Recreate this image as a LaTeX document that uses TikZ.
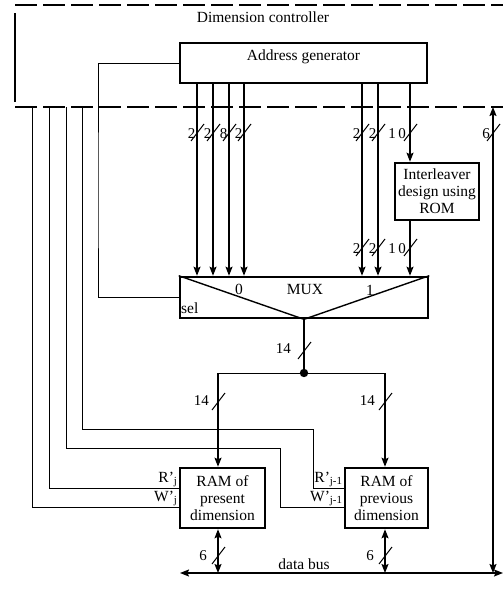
\documentclass[tikz,border=0pt]{standalone}
\usepackage{fontspec}
\setmainfont{Liberation Serif}
\usetikzlibrary{arrows.meta,calc}
\tikzset{
  thinln/.style={line width=0.9pt},
  busln/.style={line width=1.3pt},
  boxed/.style={draw,line width=2.6pt,inner sep=0pt,align=center,font=\fontsize{15.5}{17}\selectfont},
  arr/.style={-{Stealth[length=9pt,width=7pt,inset=1.5pt]}},
  arrb/.style={{Stealth[length=9pt,width=7pt,inset=1.5pt]}-{Stealth[length=9pt,width=7pt,inset=1.5pt]}},
  lbl/.style={font=\fontsize{15.5}{17}\selectfont,inner sep=1pt},
  num/.style={font=\fontsize{15}{15}\selectfont,inner sep=0pt},
  dashedge/.style={line width=2.6pt,dash pattern=on 22pt off 6pt},
  pics/sl/.style={code={\draw[line width=1pt] (-6,8) -- (7,-9);}}
}
\begin{document}
\begin{tikzpicture}[x=1pt,y=-1pt]
\useasboundingbox (0,0) rectangle (503,589);

% dimension controller (dashed)
\coordinate (dtl) at (15,5);
\coordinate (dtr) at (503,5);
\coordinate (dbl) at (15,107);
\coordinate (dbr) at (503,107);
\draw[dashedge] (dtl) -- (dtr);
\draw[line width=2.6pt] ($(dtl)+(0,8)$) -- ($(dbl)+(0,-5)$);
\draw[dashedge] (dbl) -- (dbr);
\node[lbl] (dctext) at (263,17) {Dimension controller};

% boxes
\node[boxed,minimum width=247pt,minimum height=40pt] (ag) at (303.5,63) {};
\node[lbl] (agtext) at (303.5,57) {Address generator};
\node[boxed,minimum width=248pt,minimum height=41pt] (mux) at (304,297.5) {};
\node[boxed,minimum width=84pt,minimum height=57pt] (rom) at (437,191.5) {Interleaver\\design using\\ROM};
\node[boxed,minimum width=85pt,minimum height=60pt] (ram1) at (222.5,498) {RAM of\\present\\dimension};
\node[boxed,minimum width=83pt,minimum height=60pt] (ram2) at (386.5,498) {RAM of\\previous\\dimension};

% mux interior
\draw[line width=1.4pt] (mux.north west) -- (mux.south) -- (mux.north east);
\node[lbl] (m0) at (239,289) {0};
\node[lbl] (mm) at (305,289) {MUX};
\node[lbl] (m1) at (370,290) {1};
\node[lbl,anchor=west] (msel) at (180,308) {sel};

% column x positions
\coordinate (a1) at (197,0);
\coordinate (a2) at (213,0);
\coordinate (a3) at (229,0);
\coordinate (a4) at (244,0);
\coordinate (a5) at (362,0);
\coordinate (a6) at (378,0);
\coordinate (a7) at (410,0);
\coordinate (r1x) at (218,0);
\coordinate (r2x) at (385,0);
\coordinate (rx) at (493,0);

% address lines to mux
\foreach \c in {a1,a2,a3,a4,a5,a6}{
  \draw[busln,arr] (ag.south -| \c) -- (mux.north -| \c);
}
\draw[busln,arr] (ag.south -| a7) -- (rom.north -| a7);
\draw[busln,arr] (rom.south -| a7) -- (mux.north -| a7);

% bus width marks (upper)
\foreach \xx/\t in {197/2,213/2,229/8,244/2,362/2,378/2}{
  \pic at (\xx,133) {sl};
  \node[num,anchor=east] at (\xx-1.5,134) {\t};
}
\pic at (410,133) {sl};
\node[num,anchor=east] at (406,134) {1\,0};
\pic at (493,133) {sl};
\node[num,anchor=east] at (490,134) {6};
% bus width marks (lower)
\foreach \xx/\t in {362/2,378/2}{
  \pic at (\xx,248) {sl};
  \node[num,anchor=east] at (\xx-1.5,249) {\t};
}
\pic at (410,248) {sl};
\node[num,anchor=east] at (406,249) {1\,0};

% sel line
\coordinate (selc) at (98,200);
\draw[thinln] (ag.west) -| (selc) |- (mux.west);

% mux output and split
\coordinate (jn) at (304,373);
\draw[busln] (mux.south) -- (jn);
\fill (jn) circle (4.2);
\draw[thinln] (jn) -- (jn -| r1x);
\draw[thinln] (jn) -- (jn -| r2x);
\draw[busln,arr] (jn -| r1x) -- (ram1.north -| r1x);
\draw[busln,arr] (jn -| r2x) -- (ram2.north -| r2x);
\pic at (304,351) {sl};
\node[num,anchor=east] at (291,349) {14};
\pic at (218,402) {sl};
\node[num,anchor=east] at (209,401) {14};
\pic at (385,402) {sl};
\node[num,anchor=east] at (375,401) {14};

% control lines
\coordinate (l1) at (32,107);
\coordinate (l2) at (49,107);
\coordinate (l3) at (66,107);
\coordinate (l4) at (82,107);
\coordinate (t3) at (280,448);
\coordinate (t4) at (313,429);
\coordinate (rj) at (0,488);
\coordinate (wj) at (0,507);
\draw[thinln] (l1) |- (ram1.west |- wj);
\draw[thinln] (l2) |- (ram1.west |- rj);
\draw[thinln] (l3) |- (t3) |- (ram2.west |- wj);
\draw[thinln] (l4) |- (t4) |- (ram2.west |- rj);
\node[lbl,anchor=south east] (rjl) at (ram1.west |- rj) {R’\textsubscript{j}};
\node[lbl,anchor=south east] (wjl) at (ram1.west |- wj) {W’\textsubscript{j}};
\node[lbl,anchor=south east] (rj1l) at (ram2.west |- rj) {R’\textsubscript{j-1}};
\node[lbl,anchor=south east] (wj1l) at (ram2.west |- wj) {W’\textsubscript{j-1}};

% data bus
\coordinate (bl) at (180,573);
\coordinate (br) at (503,573);
\draw[busln,arrb] (bl) -- (br);
\node[lbl,anchor=south] (dbus) at (304,571) {data bus};
\draw[busln,arrb] (ram1.south -| r1x) -- (bl -| r1x);
\draw[busln,arrb] (ram2.south -| r2x) -- (bl -| r2x);
\pic at (218,556) {sl};
\node[num,anchor=east] at (207,556) {6};
\pic at (385,556) {sl};
\node[num,anchor=east] at (374,556) {6};
\draw[busln,arrb] (dbl -| rx) -- (bl -| rx);
\end{tikzpicture}
\end{document}
